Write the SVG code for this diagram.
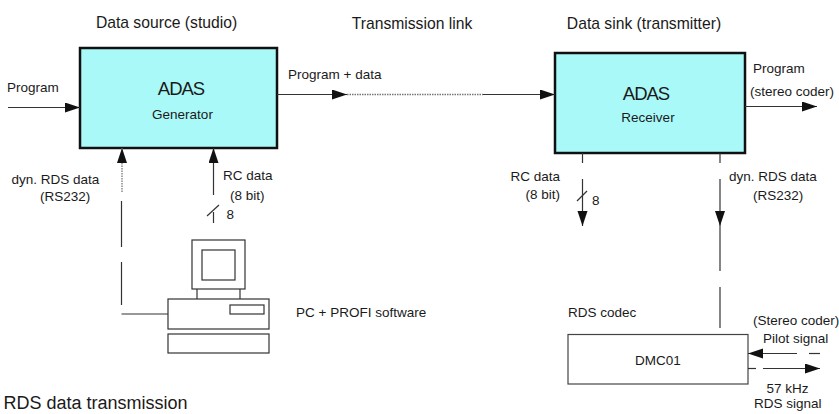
<svg xmlns="http://www.w3.org/2000/svg" width="839" height="414" viewBox="0 0 839 414">
  <style>
    text { font-family: "Liberation Sans", Arial, sans-serif; fill: #1a1a1a; }
    .lbl { font-size: 13.5px; }
    .ttl { font-size: 15.7px; }
    .big { font-size: 18.5px; letter-spacing: -1px; text-anchor: middle; }
    .mid { text-anchor: middle; }
    .end { text-anchor: end; }
    .blk { fill: #aaf9f9; stroke: #111; stroke-width: 2.5; }
    .thin { fill: #fff; stroke: #444; stroke-width: 1.2; }
    .ln { stroke: #333; stroke-width: 1.2; fill: none; }
    .dot { stroke: #777; stroke-width: 1.3; stroke-dasharray: 1.5 1; fill: none; }
  </style>
  <defs>
    <marker id="arrow" markerUnits="userSpaceOnUse" markerWidth="16" markerHeight="11" refX="15" refY="5" orient="auto">
      <path d="M0,0 L15,5 L0,10 z" fill="#111"/>
    </marker>
  </defs>

  <rect width="839" height="414" fill="#fff"/>

  <!-- section titles -->
  <text class="ttl mid" x="166.5" y="27.5">Data source (studio)</text>
  <text class="ttl mid" x="412" y="29">Transmission link</text>
  <text class="ttl mid" x="644" y="28.5">Data sink (transmitter)</text>

  <!-- ADAS generator -->
  <g id="generator">
    <rect class="blk" x="80" y="48" width="197" height="100"/>
    <text class="big" x="181" y="95">ADAS</text>
    <text class="lbl mid" x="182.5" y="119">Generator</text>
  </g>

  <!-- ADAS receiver -->
  <g id="receiver">
    <rect class="blk" x="555" y="53" width="190" height="100"/>
    <text class="big" x="646" y="99.5">ADAS</text>
    <text class="lbl mid" x="648" y="121.5">Receiver</text>
  </g>

  <!-- PC with PROFI software -->
  <g id="pc">
    <rect class="ln" x="192" y="240" width="53" height="49"/>
    <rect class="ln" x="202" y="250" width="33" height="30"/>
    <line class="ln" x1="197" y1="289" x2="197" y2="299"/>
    <line class="ln" x1="240" y1="289" x2="240" y2="299"/>
    <rect class="ln" x="168" y="299" width="101" height="30"/>
    <rect class="ln" x="230" y="305" width="34" height="9"/>
    <rect class="ln" x="168" y="334" width="101" height="19"/>
    <text class="lbl" x="296" y="316.5">PC + PROFI software</text>
  </g>

  <!-- RDS codec -->
  <g id="codec">
    <text class="lbl" x="568" y="316.5">RDS codec</text>
    <rect class="thin" x="568" y="334.5" width="180" height="49.5"/>
    <text class="lbl mid" x="658" y="365">DMC01</text>
  </g>

  <!-- signal lines -->
  <g id="connectors">
    <!-- programme input -->
    <line class="ln" x1="8" y1="107.5" x2="80" y2="107.5" marker-end="url(#arrow)"/>
    <!-- programme + data over the link -->
    <line class="ln" x1="277" y1="94.5" x2="347" y2="94.5" marker-end="url(#arrow)"/>
    <line class="dot" x1="347" y1="94.5" x2="483" y2="94.5"/>
    <line class="ln" x1="483" y1="94.5" x2="555" y2="94.5" marker-end="url(#arrow)"/>
    <!-- programme output -->
    <line class="ln" x1="745" y1="106.5" x2="817" y2="106.5" marker-end="url(#arrow)"/>

    <!-- dyn. RDS data from PC to generator -->
    <line class="dot" x1="122" y1="192" x2="122" y2="148" marker-end="url(#arrow)"/>
    <line class="ln" x1="121.5" y1="201" x2="121.5" y2="247"/>
    <line class="ln" x1="121.5" y1="262" x2="121.5" y2="305"/>
    <line class="ln" x1="121.5" y1="314" x2="168" y2="314"/>

    <!-- RC data from PC to generator (8 bit bus) -->
    <line class="ln" x1="213.5" y1="195" x2="213.5" y2="148" marker-end="url(#arrow)"/>
    <line class="ln" x1="213.5" y1="212" x2="213.5" y2="223"/>
    <line class="ln" x1="207" y1="216" x2="219" y2="205"/>

    <!-- RC data out of receiver (8 bit bus) -->
    <line class="ln" x1="582.5" y1="153" x2="582.5" y2="163"/>
    <line class="ln" x1="582.5" y1="179" x2="582.5" y2="226" marker-end="url(#arrow)"/>
    <line class="ln" x1="577" y1="201" x2="587" y2="191"/>

    <!-- dyn. RDS data from receiver to codec -->
    <line class="ln" x1="720" y1="153" x2="720" y2="163"/>
    <line class="ln" x1="720" y1="179" x2="720" y2="226" marker-end="url(#arrow)"/>
    <line class="ln" x1="720" y1="226" x2="720" y2="271"/>
    <line class="ln" x1="720" y1="287" x2="720" y2="328"/>

    <!-- pilot signal in, 57 kHz RDS signal out -->
    <line class="ln" x1="797" y1="353.5" x2="748" y2="353.5" marker-end="url(#arrow)"/>
    <line class="ln" x1="809" y1="353.5" x2="820" y2="353.5"/>
    <line class="ln" x1="748" y1="368.5" x2="756" y2="368.5"/>
    <line class="ln" x1="763" y1="368.5" x2="820" y2="368.5" marker-end="url(#arrow)"/>
  </g>

  <!-- line labels -->
  <text class="lbl" x="7" y="92">Program</text>
  <text class="lbl" x="288" y="79">Program + data</text>
  <text class="lbl" x="753" y="72.5">Program</text>
  <text class="lbl" x="750" y="96">(stereo coder)</text>

  <text class="lbl" x="11.5" y="183.5">dyn. RDS data</text>
  <text class="lbl" x="40" y="201">(RS232)</text>
  <text class="lbl" x="223" y="180">RC data</text>
  <text class="lbl" x="230" y="199.5">(8 bit)</text>
  <text class="lbl" x="226.5" y="219">8</text>

  <text class="lbl end" x="560" y="180.5">RC data</text>
  <text class="lbl end" x="560" y="199">(8 bit)</text>
  <text class="lbl" x="592" y="205">8</text>
  <text class="lbl" x="729" y="180.5">dyn. RDS data</text>
  <text class="lbl" x="753" y="200">(RS232)</text>

  <text class="lbl" x="753" y="325">(Stereo coder)</text>
  <text class="lbl" x="763" y="343">Pilot signal</text>
  <text class="lbl" x="766.5" y="392.5">57 kHz</text>
  <text class="lbl" x="754" y="408">RDS signal</text>

  <text x="3.5" y="409" font-size="18px">RDS data transmission</text>
</svg>
